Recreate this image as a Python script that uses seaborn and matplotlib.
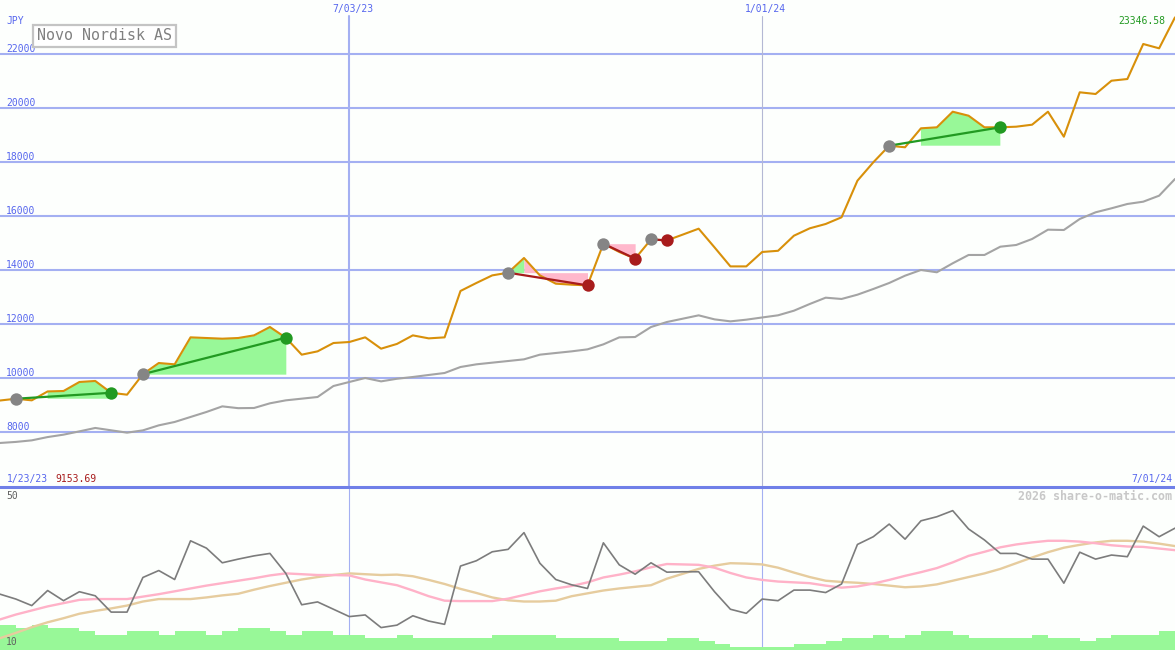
import numpy as np
import matplotlib
matplotlib.use('Agg')
import matplotlib.pyplot as plt
import matplotlib.transforms as mtransforms
import seaborn as sns

# weekly closes, JPY (Novo Nordisk AS)
weeks = np.arange(75)
price = [9153.69, 9220, 9160, 9490, 9506, 9840, 9878, 9440, 9370, 10130,
         10543, 10494, 11494, 11469, 11444, 11469, 11568, 11877, 11480, 10852,
         10975, 11284, 11321, 11494, 11074, 11250, 11567, 11456, 11493, 13211,
         13507, 13789, 13889, 14433, 13789, 13482, 13445, 13419, 14963, 14656,
         14408, 15122, 15085, 15300, 15519, 14826, 14122, 14122, 14656, 14700,
         15259, 15533, 15693, 15941, 17297, 17978, 18593, 18534, 19237, 19274,
         19852, 19704, 19274, 19274, 19297, 19371, 19852, 18926, 20571, 20508,
         21000, 21063, 22360, 22200, 23346.58]
# comparison index, scaled to the price
bench = [7581, 7620, 7678, 7800, 7889, 8011, 8137, 8050, 7963, 8048,
         8234, 8359, 8544, 8729, 8937, 8870, 8877, 9050, 9160, 9222,
         9284, 9691, 9840, 9988, 9863, 9960, 10025, 10100, 10173, 10395,
         10494, 10556, 10617, 10679, 10852, 10914, 10975, 11049, 11234, 11493,
         11506, 11877, 12062, 12185, 12309, 12160, 12086, 12148, 12230, 12310,
         12481, 12730, 12963, 12915, 13074, 13285, 13507, 13778, 13989, 13904,
         14237, 14545, 14545, 14852, 14915, 15137, 15482, 15470, 15878, 16126,
         16274, 16434, 16519, 16741, 17360]
# lower panel indicator
osc = [23.7, 22.5, 20.9, 24.6, 22.1, 24.3, 23.3, 19.3, 19.3, 27.8,
       29.5, 27.3, 36.8, 35.0, 31.4, 32.3, 33.1, 33.7, 28.8, 21.1,
       21.8, 20.0, 18.2, 18.6, 15.5, 16.1, 18.4, 17.1, 16.3, 30.6,
       31.9, 34.1, 34.7, 38.8, 31.3, 27.3, 26.0, 25.1, 36.3, 30.9,
       28.6, 31.4, 29.1, 29.2, 29.2, 24.3, 20.0, 19.0, 22.5, 22.1,
       24.7, 24.7, 24.1, 26.2, 35.9, 37.8, 40.9, 37.2, 41.7, 42.7,
       44.2, 39.7, 37.0, 33.7, 33.7, 32.3, 32.3, 26.4, 34.0, 32.3,
       33.3, 32.9, 40.4, 37.8, 39.9]
osc_fast = [17.5, 18.7, 19.7, 20.7, 21.5, 22.3, 22.5, 22.5, 22.5, 23.1,
            23.7, 24.4, 25.1, 25.8, 26.4, 27.0, 27.6, 28.3, 28.8, 28.6,
            28.4, 28.4, 28.3, 27.3, 26.6, 25.9, 24.6, 23.2, 22.1, 22.0,
            22.0, 22.0, 22.6, 23.5, 24.4, 25.1, 25.7, 26.6, 27.8, 28.5,
            29.3, 30.3, 31.1, 31.0, 30.9, 30.2, 28.9, 27.8, 27.2, 26.8,
            26.6, 26.4, 25.8, 25.3, 25.6, 26.3, 27.2, 28.2, 29.1, 30.1,
            31.5, 33.1, 34.1, 35.2, 35.9, 36.4, 36.8, 36.8, 36.6, 36.2,
            35.7, 35.4, 35.3, 34.9, 34.5]
osc_slow = [12.9, 14.2, 15.6, 16.8, 17.8, 18.9, 19.6, 20.2, 20.9, 21.9,
            22.5, 22.5, 22.5, 22.9, 23.4, 23.8, 24.8, 25.7, 26.5, 27.3,
            27.9, 28.4, 28.8, 28.6, 28.4, 28.5, 28.1, 27.2, 26.2, 25.0,
            24.0, 22.9, 22.2, 21.9, 21.9, 22.1, 23.2, 23.9, 24.6, 25.1,
            25.5, 25.9, 27.5, 28.7, 29.9, 30.7, 31.3, 31.2, 31.0, 30.2,
            29.0, 27.9, 27.0, 26.7, 26.5, 26.2, 25.8, 25.4, 25.6, 26.1,
            27.0, 27.9, 28.8, 29.9, 31.3, 32.7, 34.0, 35.1, 35.8, 36.4,
            36.8, 36.8, 36.6, 36.1, 35.5]
volume = [7.5, 6.5, 7.5, 6.5, 6.5, 5.7, 4.5, 4.5, 5.7, 5.7,
          4.5, 5.7, 5.7, 4.5, 5.7, 6.5, 6.5, 5.7, 4.5, 5.7,
          5.7, 4.5, 4.5, 3.7, 3.7, 4.5, 3.7, 3.7, 3.7, 3.7,
          3.7, 4.5, 4.5, 4.5, 4.5, 3.7, 3.7, 3.7, 3.7, 2.7,
          2.7, 2.7, 3.7, 3.7, 2.7, 1.8, 1.0, 1.0, 1.0, 1.0,
          1.8, 1.8, 2.7, 3.7, 3.7, 4.5, 3.7, 4.5, 5.7, 5.7,
          4.5, 3.7, 3.7, 3.7, 3.7, 4.5, 3.7, 3.7, 2.7, 3.7,
          4.5, 4.5, 4.5, 5.7]

# trades (week index of entry and exit)
buy_idx = [1, 9, 32, 38, 41, 56]
sell_idx = [7, 18, 37, 40, 42, 63]

price_ticks = [8000, 10000, 12000, 14000, 16000, 18000, 20000, 22000]
date_pos = [22, 48]
date_labels = ['7/03/23', '1/01/24']
start_label = '1/23/23'
end_label = '7/01/24'
name = 'Novo Nordisk AS'

bg = '#fdfffd'
grid_blue = '#a4b0f2'
label_blue = '#5666ee'
green = '#229a22'
red = '#a81c1c'
fill_green = '#98f898'
fill_pink = '#ffb8cc'

sns.set_style('white')
plt.rcParams['font.family'] = ['DejaVu Sans Mono']

W, H = 1175, 650
fig = plt.figure(figsize=(W / 100, H / 100), dpi=100, facecolor=bg)
axP = fig.add_axes([0, 163 / H, 1, 487 / H], facecolor=bg)
axV = fig.add_axes([0, 0, 1, 163 / H])
axL = axV.twinx()
axV.set_facecolor(bg)
axL.patch.set_visible(False)
axL.set_zorder(axV.get_zorder() + 1)
axP.set_zorder(axL.get_zorder() + 1)
axP.patch.set_visible(False)

price_arr = np.array(price)

# ---- upper panel ----
axP.set_xlim(0, 74)
axP.set_ylim(5950, 23990)
for t in price_ticks:
    axP.axhline(t, color=grid_blue, lw=1.5, zorder=1)
axP.axvline(date_pos[0], ymax=0.967, color=grid_blue, lw=1.5, zorder=1)
axP.axvline(date_pos[1], ymax=0.967, color='#b4b8d4', lw=0.8, zorder=1)

sns.lineplot(x=weeks, y=bench, ax=axP, color='#a4a4a4', linewidth=1.5, zorder=2)

for b, s in zip(buy_idx, sell_idx):
    xs = weeks[b:s + 1]
    ps = price_arr[b:s + 1]
    lvl = ps[0]
    nxt = np.append(ps[1:], ps[-1])
    up = ps >= lvl
    down = (ps < lvl) | (nxt < lvl)
    axP.fill_between(xs, ps, lvl, where=up, color=fill_green, lw=0, zorder=2)
    axP.fill_between(xs, ps, lvl, where=down, color=fill_pink, lw=0, zorder=2)

sns.lineplot(x=weeks, y=price, ax=axP, color='#d8900a', linewidth=1.5, zorder=3)

for b, s in zip(buy_idx, sell_idx):
    col = green if price_arr[s] >= price_arr[b] else red
    axP.plot([b, s], [price_arr[b], price_arr[s]], color=col, lw=1.6, zorder=4)

wins = [s for b, s in zip(buy_idx, sell_idx) if price_arr[s] >= price_arr[b]]
losses = [s for b, s in zip(buy_idx, sell_idx) if price_arr[s] < price_arr[b]]
sns.scatterplot(x=buy_idx, y=price_arr[buy_idx], ax=axP, color='#858585', s=80, linewidth=0, zorder=5)
sns.scatterplot(x=wins, y=price_arr[wins], ax=axP, color=green, s=80, linewidth=0, zorder=5)
sns.scatterplot(x=losses, y=price_arr[losses], ax=axP, color=red, s=80, linewidth=0, zorder=5)

axP.set_xticks([])
axP.set_yticks([])
axP.set_xlabel('')
axP.set_ylabel('')
for sp in ['top', 'left', 'right']:
    axP.spines[sp].set_visible(False)
axP.spines['bottom'].set_color('#7080e8')
axP.spines['bottom'].set_linewidth(2.2)

yt = mtransforms.blended_transform_factory(axP.transAxes, axP.transData)
for t in price_ticks:
    axP.text(6 / W, t, str(t), transform=yt, color=label_blue, fontsize=7,
             ha='left', va='bottom', zorder=6)

xt = mtransforms.blended_transform_factory(axP.transData, fig.transFigure)
for p, lab in zip(date_pos, date_labels):
    axP.text(p + 0.2, 1 - 9 / H, lab, transform=xt, color=label_blue, fontsize=7,
             ha='center', va='center')

fig.text(6 / W, 1 - 21 / H, 'JPY', color=label_blue, fontsize=7, ha='left', va='center')
fig.text(37 / W, 1 - 36 / H, name, color='#808080', fontsize=10.8, ha='left', va='center',
         zorder=10,
         bbox=dict(boxstyle='square,pad=0.25', facecolor='white', edgecolor='#c4c4c4', linewidth=1.6))
fig.text(1165 / W, 1 - 21 / H, f'{price[-1]:.2f}', color=green, fontsize=7, ha='right', va='center')
fig.text(7 / W, 1 - 479 / H, start_label, color=label_blue, fontsize=7, ha='left', va='center')
fig.text(55 / W, 1 - 479 / H, f'{price[0]:.2f}', color=red, fontsize=7, ha='left', va='center')
fig.text(1172 / W, 1 - 479 / H, end_label, color=label_blue, fontsize=7, ha='right', va='center')

# ---- lower panel ----
axV.set_xlim(0, 74)
axV.set_ylim(0, 48.9)
for p in date_pos:
    axV.axvline(p, color=grid_blue, lw=0.8, zorder=0)
axV.bar(weeks[:-1], volume, width=1, align='edge', color=fill_green, linewidth=0, zorder=1)

axL.set_xlim(0, 74)
axL.set_ylim(10, 50)
sns.lineplot(x=weeks, y=osc_slow, ax=axL, color='#e6cc9e', linewidth=1.7)
sns.lineplot(x=weeks, y=osc_fast, ax=axL, color='#ffb2c8', linewidth=1.7)
sns.lineplot(x=weeks, y=osc, ax=axL, color='#7c7c7c', linewidth=1.2)

for a in (axV, axL):
    a.set_xticks([])
    a.set_yticks([])
    a.set_xlabel('')
    a.set_ylabel('')
    for sp in a.spines.values():
        sp.set_visible(False)

fig.text(6 / W, 1 - 496 / H, '50', color='#606060', fontsize=7, ha='left', va='center')
fig.text(6 / W, 1 - 642 / H, '10', color='#606060', fontsize=7, ha='left', va='center', zorder=10)
fig.text(1172 / W, 1 - 496 / H, '2026 share-o-matic.com', color='#c8c8c8', fontsize=8.4,
         fontweight='bold', ha='right', va='center')

fig.savefig('out.png', dpi=100, facecolor=bg)
